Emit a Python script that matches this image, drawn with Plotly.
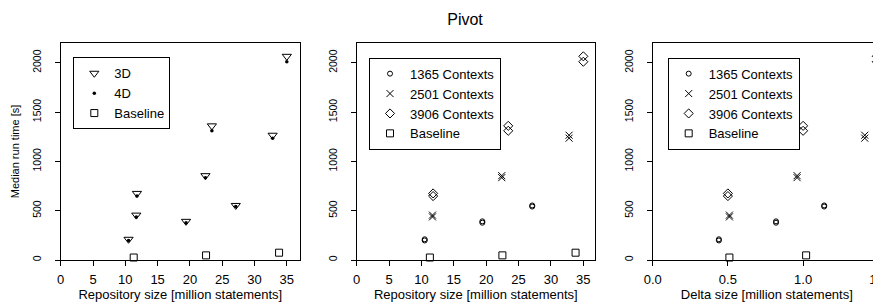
import plotly.graph_objects as go

# ---- data ----
repo_1365 = [10.5, 19.4, 27.1]
repo_2501 = [11.7, 22.4, 32.8]
repo_3906 = [11.8, 23.4, 35.0]
repo_base = [11.3, 22.5, 33.8]

delta_1365 = [0.44, 0.82, 1.14]
delta_2501 = [0.51, 0.96, 1.41]
delta_3906 = [0.50, 1.00, 1.49]
delta_base = [0.51, 1.02, 1.51]

t3d_1365 = [210, 392, 553]
t4d_1365 = [198, 378, 542]
t3d_2501 = [455, 855, 1265]
t4d_2501 = [437, 835, 1235]
t3d_3906 = [675, 1360, 2065]
t4d_3906 = [648, 1310, 2010]
t_base = [25, 47, 74]

y_ticks = [0, 500, 1000, 1500, 2000]
x_ticks_repo = [0, 5, 10, 15, 20, 25, 30, 35]
x_ticks_delta = [0.0, 0.5, 1.0, 1.5]
x_tick_delta_text = ["0.0", "0.5", "1.0", "1.5"]

FONT = "Liberation Sans, Arial, sans-serif"
OFF = 8                      # default page body margin
W, H = 881 - OFF, 307 - OFF  # figure fits inside the window

fig = go.Figure()

repo_3d = repo_1365 + repo_2501 + repo_3906
t3d_all = t3d_1365 + t3d_2501 + t3d_3906
t4d_all = t4d_1365 + t4d_2501 + t4d_3906

# Panel 1
fig.add_trace(go.Scatter(x=repo_3d, y=t3d_all, mode="markers", name="3D", cliponaxis=False,
                         marker=dict(symbol="triangle-down-open", size=8, color="black", line=dict(width=1, color="black")),
                         xaxis="x", yaxis="y", legend="legend"))
fig.add_trace(go.Scatter(x=repo_3d, y=t4d_all, mode="markers", name="4D", cliponaxis=False,
                         marker=dict(symbol="circle", size=3.5, color="black"),
                         xaxis="x", yaxis="y", legend="legend"))
fig.add_trace(go.Scatter(x=repo_base, y=t_base, mode="markers", name="Baseline", cliponaxis=False,
                         marker=dict(symbol="square-open", size=7, color="black", line=dict(width=1, color="black")),
                         xaxis="x", yaxis="y", legend="legend"))

def ctx_traces(xs_list, xa, ya, lg):
    specs = [
        ("1365 Contexts", xs_list[0], t3d_1365 + t4d_1365, "circle-open", 5),
        ("2501 Contexts", xs_list[1], t3d_2501 + t4d_2501, "x-thin-open", 7),
        ("3906 Contexts", xs_list[2], t3d_3906 + t4d_3906, "diamond-open", 7),
    ]
    for name, xs, ys, sym, sz in specs:
        fig.add_trace(go.Scatter(x=xs + xs, y=ys, mode="markers", name=name, cliponaxis=False,
                                 marker=dict(symbol=sym, size=sz, color="black", line=dict(width=1, color="black")),
                                 xaxis=xa, yaxis=ya, legend=lg))
    fig.add_trace(go.Scatter(x=xs_list[3], y=t_base, mode="markers", name="Baseline", cliponaxis=False,
                             marker=dict(symbol="square-open", size=7, color="black", line=dict(width=1, color="black")),
                             xaxis=xa, yaxis=ya, legend=lg))

ctx_traces([repo_1365, repo_2501, repo_3906, repo_base], "x2", "y2", "legend2")
ctx_traces([delta_1365, delta_2501, delta_3906, delta_base], "x3", "y3", "legend3")

def px(v):
    """screen x -> paper fraction"""
    return (v - OFF) / W

TOP, BOT = 43, 260  # screen y of plot area
common_x = dict(showline=True, linecolor="black", linewidth=1, mirror=True, ticks="outside", ticklen=5,
                tickcolor="black", showgrid=False, zeroline=False, tickfont=dict(size=13, color="black"),
                ticklabelstandoff=2, automargin=False, ticklabeloverflow="allow")
common_y = dict(showline=True, linecolor="black", linewidth=1, ticks="outside", ticklen=5,
                tickcolor="black", showgrid=False, zeroline=False, tickfont=dict(size=10.5, color="black"),
                tickangle=-90, range=[0, 2200], tickvals=y_ticks, ticklabelstandoff=10, automargin=False)

xt_font = dict(size=13, color="black")

fig.update_layout(
    width=W, height=H,
    margin=dict(l=0, r=0, t=TOP - OFF, b=H - (BOT - OFF), autoexpand=False),
    plot_bgcolor="white", paper_bgcolor="white",
    font=dict(family=FONT, color="black"),
    showlegend=True,
    title=dict(text="Pivot", x=px(465), xanchor="center", y=1 - (19 - OFF) / H, yanchor="middle",
               font=dict(size=16, color="black")),
    xaxis=dict(common_x, domain=[px(60.7), px(300)], range=[0, 37.04], tickvals=x_ticks_repo, anchor="y",
               title=dict(text="Repository size [million statements]", font=xt_font, standoff=1)),
    yaxis=dict(common_y, domain=[0, 1], anchor="x", mirror=True,
               title=dict(text="Median run time [s]", font=dict(size=11, color="black"), standoff=8)),
    xaxis2=dict(common_x, domain=[px(356.7), px(595)], range=[0, 36.8], tickvals=x_ticks_repo, anchor="y2",
                title=dict(text="Repository size [million statements]", font=xt_font, standoff=1)),
    yaxis2=dict(common_y, domain=[0, 1], anchor="x2", mirror=True),
    xaxis3=dict(common_x, domain=[px(652.7), 1.0], range=[0, (881 - 652.7) / 150.4],
                tickvals=x_ticks_delta, ticktext=x_tick_delta_text, anchor="y3",
                title=dict(text="Delta size [million statements]", font=xt_font, standoff=1)),
    yaxis3=dict(common_y, domain=[0, 1], anchor="x3", mirror=False),
)

leg_common = dict(bgcolor="white", bordercolor="black", borderwidth=1, font=dict(size=13, color="black"),
                  xanchor="left", yanchor="top", itemwidth=30, tracegroupgap=0, traceorder="normal")
ply = BOT - TOP
fig.update_layout(
    legend=dict(leg_common, x=px(73.3), y=(BOT - 57.3) / ply),
    legend2=dict(leg_common, x=px(369), y=(BOT - 57.7) / ply),
    legend3=dict(leg_common, x=px(667.7), y=(BOT - 57.7) / ply),
)

fig.write_html("out.html")
